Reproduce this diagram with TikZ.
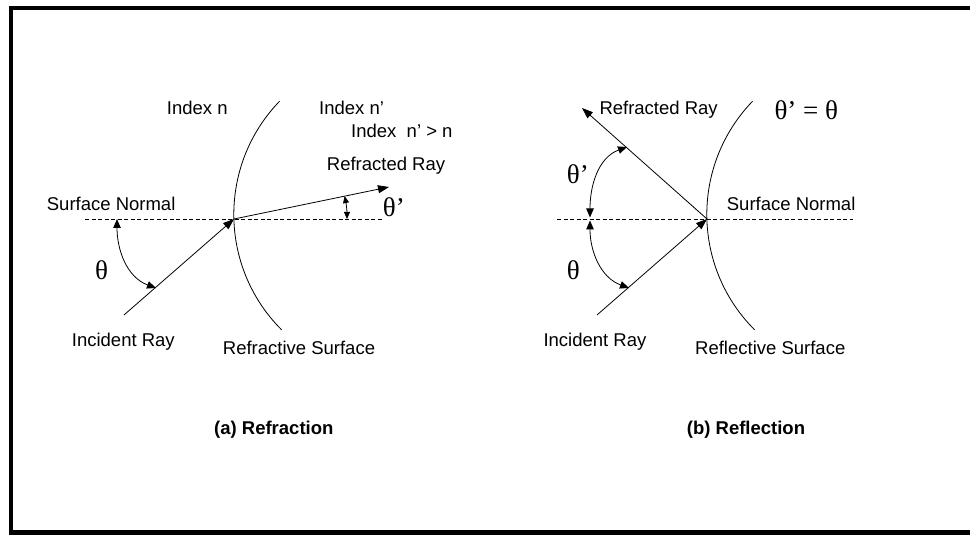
\documentclass[tikz,border=0pt]{standalone}
\usepackage{fontspec}
\setmainfont{Liberation Sans}
\newfontfamily\thetafont{Liberation Serif}
\usepackage{tikz}
\usetikzlibrary{arrows.meta,calc,positioning}

\tikzset{
  lbl/.style={anchor=base west,inner sep=0pt,font=\fontsize{18.5}{22}\selectfont},
  capt/.style={lbl,font=\fontsize{18.5}{22}\selectfont\bfseries},
  ang/.style={anchor=base west,inner sep=0pt,font=\fontsize{27}{32}\selectfont\thetafont},
  normline/.style={line width=0.8pt,dash pattern=on 4pt off 2.5pt},
  surf/.style={line width=0.8pt},
  ray/.style={line width=0.8pt,-{Triangle[length=11pt,width=8pt]}},
  angarr/.style={line width=0.8pt,{Triangle[length=9pt,width=7.5pt]}-{Triangle[length=9pt,width=7.5pt]}},
  angsmall/.style={line width=0.8pt,{Triangle[length=7pt,width=6pt]}-{Triangle[length=7pt,width=6pt]}},
}

\begin{document}
\begin{tikzpicture}[x=1pt,y=1pt]
  \useasboundingbox (0,0) rectangle (970,535);
  % Frame
  \begin{scope}
    \clip (0,0) rectangle (970,535);
    \draw[line width=4.5pt] (985,527) -- (10.8,527) -- (10.8,2.4) -- (985,2.4);
  \end{scope}

  % (a) Refraction
  \coordinate (hitA) at (234,316);
  \coordinate (normA-w) at (85,316);
  \coordinate (normA-e) at (382,316);
  \coordinate (incA) at (124,220);
  \coordinate (refrA) at (389,348);
  \coordinate (surfA) at (279.55,433.73);
  \draw[normline] (normA-w) -- (normA-e);
  \draw[surf] (surfA) arc[start angle=136,end angle=225,radius=163];
  \draw[ray] (incA) -- (hitA);
  \draw[ray] (hitA) -- (refrA);
  \draw[angarr] (117,316) to[out=-90,in=160] (156,247);
  \draw[angsmall] ([shift={(0:113)}]hitA) arc[start angle=0,end angle=11.7,radius=113];
  \node[lbl] (idxA) at (166.7,420.7) {Index n};
  \node[lbl] (idxA2) at (319,420.7) {Index n’};
  \node[lbl] (idxCmp) at (351,397.3) {Index\ \ n’ > n};
  \node[lbl] (refrA-lbl) at (326.7,364.3) {Refracted Ray};
  \node[lbl] (normA-lbl) at (46.7,324.3) {Surface Normal};
  \node[ang] (thA2) at (382.7,318.3) {θ’};
  \node[ang] (thA) at (95,255) {θ};
  \node[lbl] (incA-lbl) at (71.7,188.3) {Incident Ray};
  \node[lbl] (surfA-lbl) at (222.7,180) {Refractive Surface};
  \node[capt] (capA) at (214,100) {(a) Refraction};

  % (b) Reflection
  \coordinate (hitB) at (707,316);
  \coordinate (normB-w) at (557,316);
  \coordinate (normB-e) at (853,316);
  \coordinate (incB) at (597,220);
  \coordinate (reflB) at (582,427);
  \coordinate (surfB) at (752.55,433.73);
  \draw[normline] (normB-w) -- (normB-e);
  \draw[surf] (surfB) arc[start angle=136,end angle=225,radius=163];
  \draw[ray] (incB) -- (hitB);
  \draw[ray] (hitB) -- (reflB);
  \draw[angarr] (590,317.5) to[out=90,in=-160] (627,388);
  \draw[angarr] (590,314.5) to[out=-90,in=160] (629,247);
  \node[lbl] (reflB-lbl) at (599.3,420.7) {Refracted Ray};
  \node[ang] (thEq) at (774.3,415) {θ’ = θ};
  \node[lbl] (normB-lbl) at (726.7,324.3) {Surface Normal};
  \node[ang] (thB2) at (566.7,351.7) {θ’};
  \node[ang] (thB) at (566.7,255) {θ};
  \node[lbl] (incB-lbl) at (543.3,188.3) {Incident Ray};
  \node[lbl] (surfB-lbl) at (695,180) {Reflective Surface};
  \node[capt] (capB) at (686.7,100) {(b) Reflection};
\end{tikzpicture}
\end{document}
